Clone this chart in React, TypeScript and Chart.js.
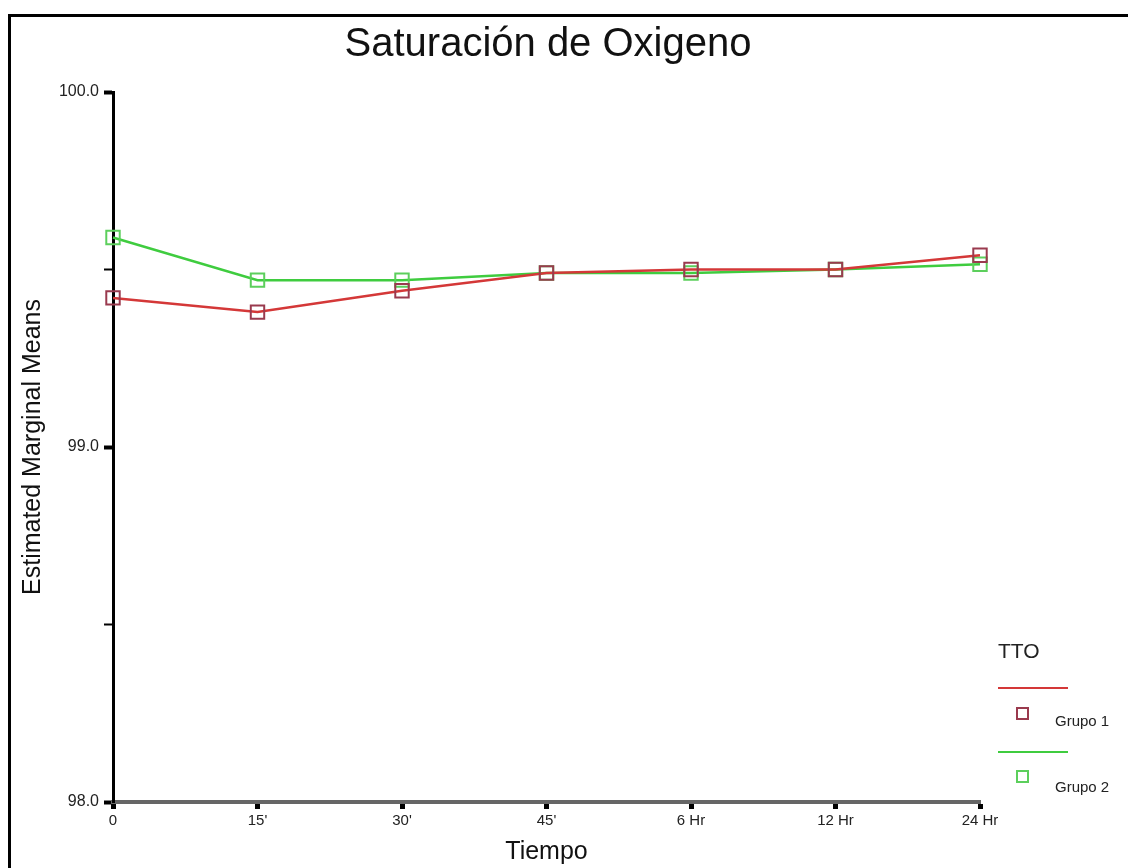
import React, { useEffect, useRef } from "react";
import { Chart, registerables } from "chart.js";

Chart.register(...registerables);

const categories = ["0", "15'", "30'", "45'", "6 Hr", "12 Hr", "24 Hr"];
const grupo1 = [99.42, 99.38, 99.44, 99.49, 99.5, 99.5, 99.54];
const grupo2 = [99.59, 99.47, 99.47, 99.49, 99.49, 99.5, 99.515];
const yMin = 98.0;
const yMax = 100.0;
const yStep = 0.5;

const titleText = "Saturación de Oxigeno";
const xTitle = "Tiempo";
const yTitle = "Estimated Marginal Means";
const legendTitle = "TTO";
const seriesNames = ["Grupo 1", "Grupo 2"];

const RED_LINE = "#d43838";
const RED_MARK = "#9a3a4e";
const GREEN_LINE = "#3fcc3f";
const GREEN_MARK = "#5ccf5c";
const FONT = "'Liberation Sans', Arial, sans-serif";

export default function App() {
  const ref = useRef<HTMLCanvasElement | null>(null);

  useEffect(() => {
    if (!ref.current) return;
    const chart = new Chart(ref.current, {
      type: "line",
      data: {
        labels: categories,
        datasets: [
          {
            label: seriesNames[0],
            data: grupo1,
            borderColor: RED_LINE,
            borderWidth: 2.5,
            pointStyle: "rect",
            pointRadius: 9.5,
            pointBorderWidth: 2,
            pointBorderColor: RED_MARK,
            pointBackgroundColor: "rgba(255,255,255,0)",
            fill: false,
            tension: 0,
            yAxisID: "y",
          },
          {
            label: seriesNames[1],
            data: grupo2,
            borderColor: GREEN_LINE,
            borderWidth: 2.5,
            pointStyle: "rect",
            pointRadius: 9.5,
            pointBorderWidth: 2,
            pointBorderColor: GREEN_MARK,
            pointBackgroundColor: "rgba(255,255,255,0)",
            fill: false,
            tension: 0,
            yAxisID: "y",
          },
        ],
      },
      options: {
        animation: false,
        responsive: false,
        layout: { padding: 0 },
        plugins: {
          legend: { display: false },
          tooltip: { enabled: false },
          title: {
            display: true,
            text: titleText,
            color: "#111",
            font: { family: FONT, size: 40, weight: "normal" },
            padding: { top: 4, bottom: 23 },
          },
        },
        scales: {
          x: {
            type: "category",
            offset: false,
            grid: {
              drawOnChartArea: false,
              drawTicks: true,
              tickLength: 7,
              tickWidth: 5,
              tickColor: "#000",
            },
            border: { display: true, color: "#666", width: 4 },
            ticks: {
              color: "#222",
              padding: 3,
              font: { family: FONT, size: 15 },
              maxRotation: 0,
              autoSkip: false,
            },
            title: {
              display: true,
              text: xTitle,
              color: "#111",
              font: { family: FONT, size: 25 },
              padding: { top: 4, bottom: 1 },
            },
            afterFit: (s: any) => {
              s.height = 66;
            },
          },
          y: {
            type: "linear",
            position: "left",
            min: yMin,
            max: yMax,
            grid: {
              drawOnChartArea: false,
              drawTicks: true,
              tickLength: 9,
              tickWidth: (ctx: any) => (ctx.tick && Math.abs(ctx.tick.value % 1) < 1e-6 ? 4 : 2),
              tickColor: "#000",
            },
            border: { display: true, color: "#000", width: 3 },
            ticks: {
              stepSize: yStep,
              color: "#222",
              padding: 5,
              font: { family: FONT, size: 16 },
              callback: (v: any) => (Math.abs(Number(v) % 1) < 1e-6 ? Number(v).toFixed(1) : ""),
            },
            title: {
              display: true,
              text: yTitle,
              color: "#111",
              font: { family: FONT, size: 25 },
              padding: { top: 7, bottom: 0 },
            },
            afterFit: (s: any) => {
              s.width = 102;
            },
          },
          yRight: {
            type: "linear",
            position: "right",
            min: yMin,
            max: yMax,
            display: true,
            grid: { display: false, drawTicks: false },
            border: { display: false },
            ticks: { display: false },
            afterFit: (s: any) => {
              s.width = 105;
            },
          },
        },
      },
    });
    return () => chart.destroy();
  }, []);

  const txt: React.CSSProperties = {
    position: "absolute",
    fontFamily: FONT,
    color: "#222",
    whiteSpace: "nowrap",
    lineHeight: 1,
  };

  // legend coordinates are relative to the wrapper's padding box (page x-11, y-17)
  return (
    <div
      style={{
        position: "absolute",
        left: 8,
        top: 14,
        width: 1120,
        height: 854,
        borderTop: "3px solid #000",
        borderLeft: "3px solid #000",
        boxSizing: "border-box",
        background: "#fff",
        overflow: "hidden",
      }}
    >
      <canvas
        ref={ref}
        width={1074}
        height={851}
        style={{ position: "absolute", left: 0, top: 0, width: 1074, height: 851 }}
      />
      <div style={{ ...txt, left: 987, top: 623, fontSize: 21 }}>{legendTitle}</div>
      <div style={{ position: "absolute", left: 987, top: 670, width: 70, height: 2, background: RED_LINE }} />
      <div
        style={{
          position: "absolute",
          left: 1005,
          top: 690,
          width: 13,
          height: 13,
          border: `2px solid ${RED_MARK}`,
          boxSizing: "border-box",
        }}
      />
      <div style={{ ...txt, left: 1044, top: 696, fontSize: 15 }}>{seriesNames[0]}</div>
      <div style={{ position: "absolute", left: 987, top: 734, width: 70, height: 2, background: GREEN_LINE }} />
      <div
        style={{
          position: "absolute",
          left: 1005,
          top: 753,
          width: 13,
          height: 13,
          border: `2px solid ${GREEN_MARK}`,
          boxSizing: "border-box",
        }}
      />
      <div style={{ ...txt, left: 1044, top: 762, fontSize: 15 }}>{seriesNames[1]}</div>
    </div>
  );
}
